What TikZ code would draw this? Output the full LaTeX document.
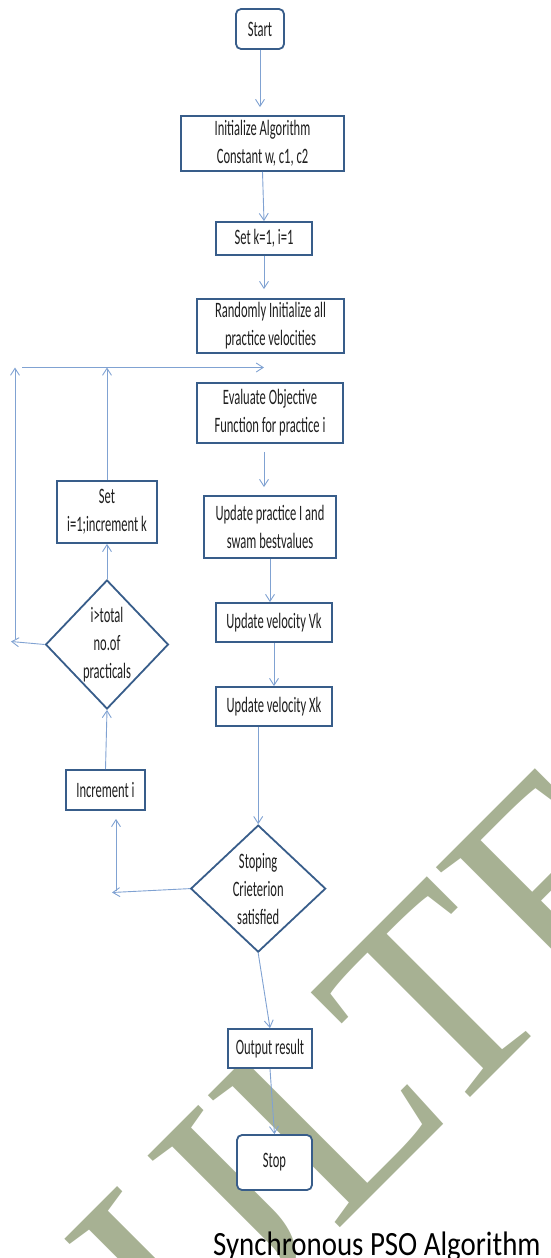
\documentclass[tikz,border=0pt]{standalone}
\usepackage{fontspec}
\newfontfamily\boxfont[FakeStretch=0.57]{Carlito}
\newfontfamily\capfont[FakeStretch=0.85]{Carlito}
\newfontfamily\markfont{Liberation Serif}
\usetikzlibrary{shapes.geometric,arrows.meta}
\definecolor{boxblue}{RGB}{56,93,138}
\definecolor{flowblue}{RGB}{128,162,210}
\definecolor{markgreen}{RGB}{167,177,147}
\tikzset{
  procbox/.style={draw=boxblue,line width=1.8pt,fill=white,inner sep=0pt,align=center,
    text=black!88,font=\boxfont\fontsize{22}{28}\selectfont},
  termbox/.style={procbox,rounded corners=5pt},
  decbox/.style={procbox,diamond},
  flow/.style={draw=flowblue,line width=0.9pt,-{Straight Barb[length=7pt,width=9pt]}},
  plainflow/.style={draw=flowblue,line width=0.9pt}
}
\begin{document}
\begin{tikzpicture}[x=1pt,y=-1pt]
\useasboundingbox (0,0) rectangle (551,1258);
\clip (0,0) rectangle (551,1258);
\node[rotate=45,anchor=base west,inner sep=0pt,text=markgreen,font=\markfont\fontsize{285}{285}\selectfont] (mark) at (189,1379) {IJLTET};
\node[termbox,minimum width=48pt,minimum height=40pt] (start) at (260,29) {Start};
\node[procbox,minimum width=163pt,minimum height=55pt] (init) at (262.5,143.5) {Initialize Algorithm\\Constant w, c1, c2};
\node[procbox,minimum width=96pt,minimum height=33pt] (setk) at (264,238.5) {Set k=1, i=1};
\node[procbox,minimum width=147pt,minimum height=54pt] (rand) at (270.5,326) {Randomly Initialize all\\practice velocities};
\node[procbox,minimum width=146pt,minimum height=60pt] (eval) at (270,413) {Evaluate Objective\\Function for practice i};
\node[procbox,minimum width=132pt,minimum height=62pt] (updp) at (270,527) {Update practice I and\\swam bestvalues};
\node[procbox,minimum width=116pt,minimum height=39pt] (updv) at (274,622.5) {Update velocity Vk};
\node[procbox,minimum width=116pt,minimum height=39pt] (updx) at (274,706.5) {Update velocity Xk};
\node[procbox,minimum width=100pt,minimum height=62pt] (seti) at (107,512) {Set\\i=1;increment k};
\node[decbox,minimum width=122pt,minimum height=129pt] (total) at (107,644.5) {i\textgreater total\\no.of\\practicals};
\node[procbox,minimum width=79pt,minimum height=40pt] (incr) at (105.5,790) {Increment i};
\node[decbox,minimum width=135pt,minimum height=127pt] (stopcrit) at (258.2,888.6) {Stoping\\Crieterion\\satisfied};
\node[procbox,minimum width=84pt,minimum height=39pt] (outp) at (270,1048.5) {Output result};
\node[termbox,minimum width=75pt,minimum height=55pt] (stop) at (274.5,1162.5) {Stop};
\node[anchor=base west,inner sep=0pt,font=\capfont\fontsize{34}{34}\selectfont] (caption) at (213,1255) {Synchronous PSO Algorithm};
\coordinate (loopl) at (22,367.5);
\coordinate (loopin) at (264,367.5);
\coordinate (leftturn) at (11,641.5);
\coordinate (leftup) at (15,639);
\coordinate (incrturn) at (112,892.5);
\coordinate (incrup) at (116,891);
\draw[flow,shorten >=8pt] (start.south) -- (start.south |- init.north);
\draw[flow] (init.south) -- (setk.north);
\draw[flow,shorten >=9pt] (setk.south) -- (setk.south |- rand.north);
\draw[flow] (loopl) -- (loopin);
\draw[flow,shorten <=8pt,shorten >=8pt] ([xshift=-6pt]eval.south) -- ([xshift=-6pt]eval.south |- updp.north);
\draw[flow] (updp.south) -- (updp.south |- updv.north);
\draw[flow] (updv) -- (updx);
\draw[flow] (updx.south -| stopcrit.north) -- (stopcrit.north);
\draw[flow] (stopcrit.south) -- (outp.north);
\draw[flow] (outp.south) -- (stop.north);
\draw[flow] (stopcrit.west) -- (incrturn);
\draw[flow,shorten >=8pt] (incrup) -- (incrup |- incr.south);
\draw[flow] (incr.north) -- (total.south);
\draw[flow] (total.north) -- (seti.south);
\draw[flow] (total.west) -- (leftturn);
\draw[flow] (leftup) -- (leftup |- loopl);
\draw[flow] (seti.north) -- (seti.north |- loopl);
\end{tikzpicture}
\end{document}
